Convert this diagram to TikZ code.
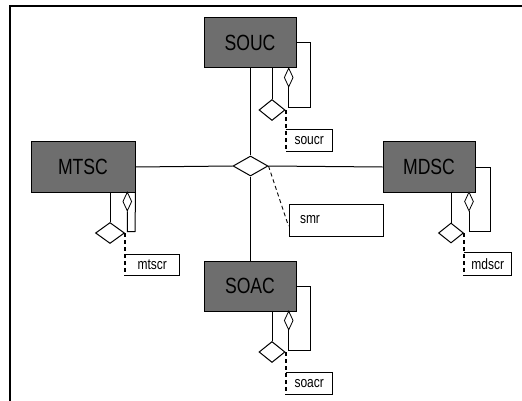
\documentclass[tikz,border=0pt]{standalone}
\usepackage{fontspec}
\setmainfont{Liberation Sans}
\newfontfamily\labfont[FakeStretch=0.8]{Liberation Sans}
\usetikzlibrary{shapes.geometric,calc}
\definecolor{boxgray}{RGB}{110,110,110}
\tikzset{
  cls/.style={draw=black, line width=1pt, fill=boxgray, minimum height=50pt, inner sep=0pt, font=\labfont\fontsize{22}{24}\selectfont},
  rel/.style={draw=black, line width=1pt, fill=white, shape=diamond, inner sep=0pt},
  agg/.style={draw=black, line width=0.8pt, fill=white, shape=diamond, inner sep=0pt, minimum width=9pt, minimum height=19pt},
  attr/.style={inner sep=0pt, font=\labfont\fontsize{15}{17}\selectfont},
  conn/.style={line width=1pt},
  dashthick/.style={line width=2pt, dash pattern=on 4pt off 3pt},
  dashthin/.style={line width=0.9pt, dash pattern=on 4pt off 3pt}
}
\begin{document}
\begin{tikzpicture}[x=1pt,y=-1pt]
\useasboundingbox (0,0) rectangle (522,401);
% frame
\draw[line width=2pt] (9.5,401) -- (9.5,6) -- (522,6);

% classes
\node[cls, minimum width=92pt] (souc) at (250,43) {SOUC};
\node[cls, minimum width=104pt] (mtsc) at (83,167) {MTSC};
\node[cls, minimum width=92pt] (mdsc) at (429,167) {MDSC};
\node[cls, minimum width=92pt] (soac) at (250,286) {SOAC};

% central relation
\node[rel, minimum width=35pt, minimum height=20pt] (cen) at (250.5,166) {};
\draw[conn] (souc.south -| cen.north) -- (cen.north);
\draw[conn] (cen.south) -- (soac.north -| cen.south);
\draw[conn] (mtsc.east) -- (cen.west);
\draw[conn] (cen.east) -- (mdsc.west);

% smr
\node[attr, draw, line width=1pt, minimum width=94pt, minimum height=32pt, text width=72pt, inner xsep=11pt, align=left] (smr) at (336,220) {smr};
\coordinate (smrend) at ($(smr.west)+(0,6)$);
\draw[dashthin] (cen.east) -- (smrend);

% ---- SOUC
\node[agg] (sousd) at (288.7,77.5) {};
\draw[conn] (souc.east) -- (310,43) -- (310,108) -- (sousd.south |- 0,108) -- (sousd.south);
\node[rel, minimum width=26pt, minimum height=21pt] (soud) at (272,110) {};
\draw[conn] (soud.north |- souc.south) -- (soud.north);
\node[attr, anchor=north west, minimum width=47pt, minimum height=21pt] (soucr) at (soud.east |- 0,130) {soucr};
\draw[line width=1pt] (soucr.north west) -- (soucr.north east) -- (soucr.south east) -- (soucr.south west);
\draw[dashthick] (soud.east) -- (soucr.south west);

% ---- MTSC
\node[agg] (mtsd) at (127.3,201.5) {};
\coordinate (mtsloop) at (135,231.7);
\draw[conn] (mtsc.south east) -- (mtsloop) -- (mtsd.south |- mtsloop) -- (mtsd.south);
\node[rel, minimum width=29pt, minimum height=21pt] (mtsdd) at (110,233) {};
\draw[conn] (mtsdd.north |- mtsc.south) -- (mtsdd.north);
\node[attr, anchor=north west, minimum width=54pt, minimum height=21pt] (mtscr) at (mtsdd.east |- 0,254) {mtscr};
\draw[line width=1pt] (mtscr.north west) -- (mtscr.north east) -- (mtscr.south east) -- (mtscr.south west);
\draw[dashthick] (mtsdd.east) -- (mtscr.south west);

% ---- MDSC
\node[agg] (mdsd) at (469,201.5) {};
\draw[conn] (mdsc.east) -- (490,167) -- (490,231.7) -- (mdsd.south |- 0,231.7) -- (mdsd.south);
\node[rel, minimum width=25pt, minimum height=20pt] (mdsdd) at (451,233) {};
\draw[conn] (mdsdd.north |- mdsc.south) -- (mdsdd.north);
\node[attr, anchor=north west, minimum width=47pt, minimum height=23pt] (mdscr) at (mdsdd.east |- 0,252) {mdscr};
\draw[line width=1pt] (mdscr.north west) -- (mdscr.north east) -- (mdscr.south east) -- (mdscr.south west);
\draw[dashthick] (mdsdd.east) -- (mdscr.south west);

% ---- SOAC
\node[agg] (soasd) at (288.7,320.5) {};
\draw[conn] (soac.east) -- (310,286) -- (310,350.7) -- (soasd.south |- 0,350.7) -- (soasd.south);
\node[rel, minimum width=26pt, minimum height=21pt] (soad) at (272,352) {};
\draw[conn] (soad.north |- soac.south) -- (soad.north);
\node[attr, anchor=north west, minimum width=47pt, minimum height=22pt] (soacr) at (soad.east |- 0,372) {soacr};
\draw[line width=1pt] (soacr.north west) -- (soacr.north east) -- (soacr.south east) -- (soacr.south west);
\draw[dashthick] (soad.east) -- (soacr.south west);
\end{tikzpicture}
\end{document}
